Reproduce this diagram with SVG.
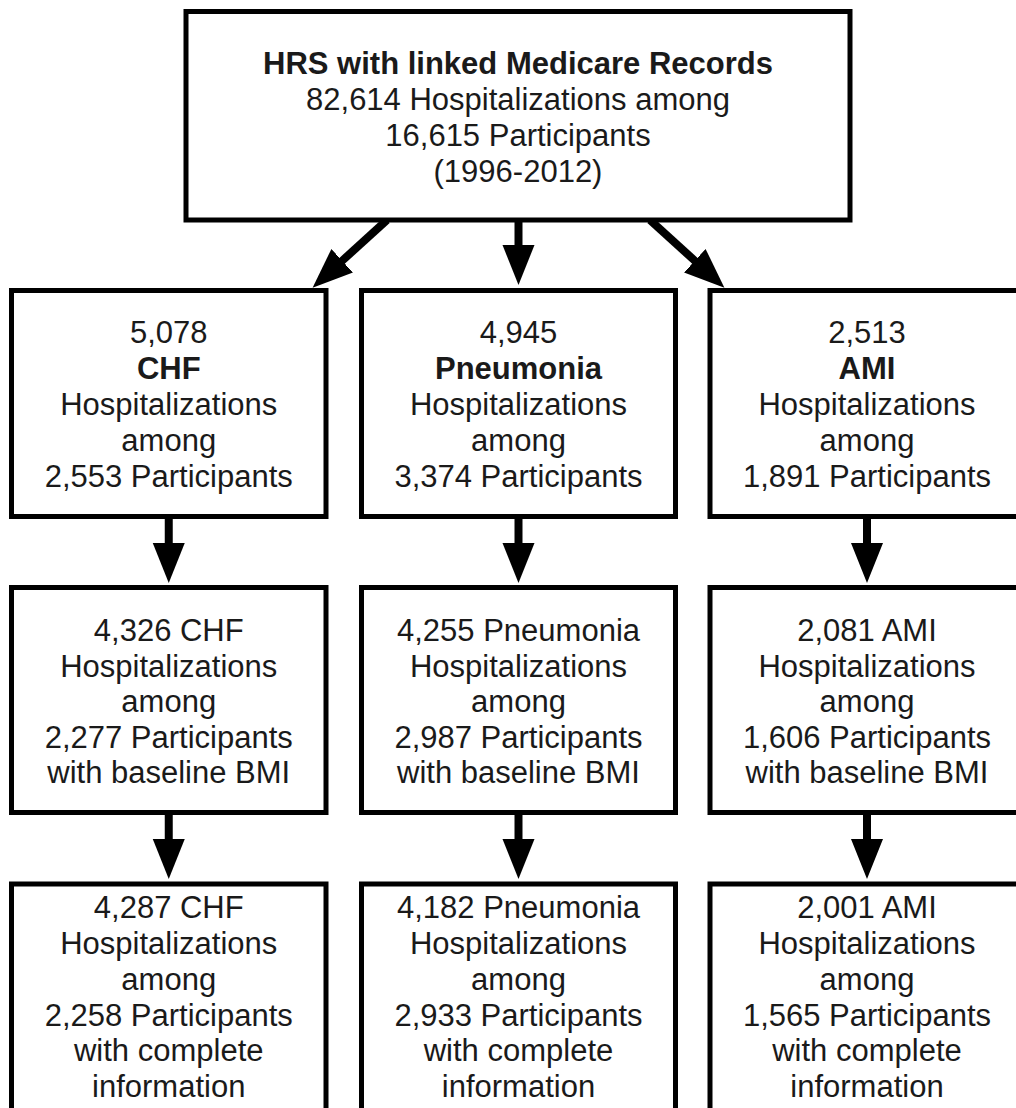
<svg xmlns="http://www.w3.org/2000/svg" width="1016" height="1108" viewBox="0 0 1016 1108">
<style>
.box{fill:#fff;stroke:#000;stroke-width:5}
.t{font-family:"Liberation Sans",Arial,Helvetica,sans-serif;font-size:31px;fill:#1a1a1a;text-anchor:middle}
.b{font-weight:bold}
.c{stroke:#000;stroke-width:8;fill:none;marker-end:url(#ah)}
</style>
<defs>
<marker id="ah" markerUnits="userSpaceOnUse" markerWidth="42" markerHeight="34" refX="2" refY="16" orient="auto" viewBox="0 0 42 32">
<path d="M0,0 L40,16 L0,32 Z" fill="#000"/>
</marker>
</defs>
<rect width="1016" height="1108" fill="#fff"/>
<g id="connectors">
<line class="c" x1="387" y1="220" x2="340.7" y2="262.1"/>
<line class="c" x1="518.5" y1="220" x2="518.5" y2="247"/>
<line class="c" x1="650" y1="220" x2="696.3" y2="262.1"/>
<line class="c" x1="168.75" y1="517" x2="168.75" y2="545"/>
<line class="c" x1="518.5" y1="517" x2="518.5" y2="545"/>
<line class="c" x1="867" y1="517" x2="867" y2="545"/>
<line class="c" x1="168.75" y1="812" x2="168.75" y2="841"/>
<line class="c" x1="518.5" y1="812" x2="518.5" y2="841"/>
<line class="c" x1="867" y1="812" x2="867" y2="841"/>
</g>
<g id="n-hrs">
<rect class="box" x="186" y="11.5" width="664" height="208.5"/>
<text class="t b" x="518" y="74">HRS with linked Medicare Records</text>
<text class="t" x="518" y="110">82,614 Hospitalizations among</text>
<text class="t" x="518" y="146">16,615 Participants</text>
<text class="t" x="518" y="182">(1996-2012)</text>
</g>
<g id="n-chf1">
<rect class="box" x="11.5" y="290.5" width="314.5" height="226"/>
<text class="t" x="168.75" y="343">5,078</text>
<text class="t b" x="168.75" y="379">CHF</text>
<text class="t" x="168.75" y="415">Hospitalizations</text>
<text class="t" x="168.75" y="451">among</text>
<text class="t" x="168.75" y="487">2,553 Participants</text>
</g>
<g id="n-pneu1">
<rect class="box" x="361.5" y="290.5" width="314" height="226"/>
<text class="t" x="518.5" y="343">4,945</text>
<text class="t b" x="518.5" y="379">Pneumonia</text>
<text class="t" x="518.5" y="415">Hospitalizations</text>
<text class="t" x="518.5" y="451">among</text>
<text class="t" x="518.5" y="487">3,374 Participants</text>
</g>
<g id="n-ami1">
<rect class="box" x="710" y="290.5" width="314" height="226"/>
<text class="t" x="867" y="343">2,513</text>
<text class="t b" x="867" y="379">AMI</text>
<text class="t" x="867" y="415">Hospitalizations</text>
<text class="t" x="867" y="451">among</text>
<text class="t" x="867" y="487">1,891 Participants</text>
</g>
<g id="n-chf2">
<rect class="box" x="11.5" y="587.5" width="314.5" height="225"/>
<text class="t" x="168.75" y="641">4,326 CHF</text>
<text class="t" x="168.75" y="677">Hospitalizations</text>
<text class="t" x="168.75" y="712">among</text>
<text class="t" x="168.75" y="748">2,277 Participants</text>
<text class="t" x="168.75" y="783">with baseline BMI</text>
</g>
<g id="n-pneu2">
<rect class="box" x="361.5" y="587.5" width="314" height="225"/>
<text class="t" x="518.5" y="641">4,255 Pneumonia</text>
<text class="t" x="518.5" y="677">Hospitalizations</text>
<text class="t" x="518.5" y="712">among</text>
<text class="t" x="518.5" y="748">2,987 Participants</text>
<text class="t" x="518.5" y="783">with baseline BMI</text>
</g>
<g id="n-ami2">
<rect class="box" x="710" y="587.5" width="314" height="225"/>
<text class="t" x="867" y="641">2,081 AMI</text>
<text class="t" x="867" y="677">Hospitalizations</text>
<text class="t" x="867" y="712">among</text>
<text class="t" x="867" y="748">1,606 Participants</text>
<text class="t" x="867" y="783">with baseline BMI</text>
</g>
<g id="n-chf3">
<rect class="box" x="11.5" y="884" width="314.5" height="232"/>
<text class="t" x="168.75" y="918">4,287 CHF</text>
<text class="t" x="168.75" y="954">Hospitalizations</text>
<text class="t" x="168.75" y="990">among</text>
<text class="t" x="168.75" y="1026">2,258 Participants</text>
<text class="t" x="168.75" y="1061">with complete</text>
<text class="t" x="168.75" y="1097">information</text>
</g>
<g id="n-pneu3">
<rect class="box" x="361.5" y="884" width="314" height="232"/>
<text class="t" x="518.5" y="918">4,182 Pneumonia</text>
<text class="t" x="518.5" y="954">Hospitalizations</text>
<text class="t" x="518.5" y="990">among</text>
<text class="t" x="518.5" y="1026">2,933 Participants</text>
<text class="t" x="518.5" y="1061">with complete</text>
<text class="t" x="518.5" y="1097">information</text>
</g>
<g id="n-ami3">
<rect class="box" x="710" y="884" width="314" height="232"/>
<text class="t" x="867" y="918">2,001 AMI</text>
<text class="t" x="867" y="954">Hospitalizations</text>
<text class="t" x="867" y="990">among</text>
<text class="t" x="867" y="1026">1,565 Participants</text>
<text class="t" x="867" y="1061">with complete</text>
<text class="t" x="867" y="1097">information</text>
</g>
</svg>
